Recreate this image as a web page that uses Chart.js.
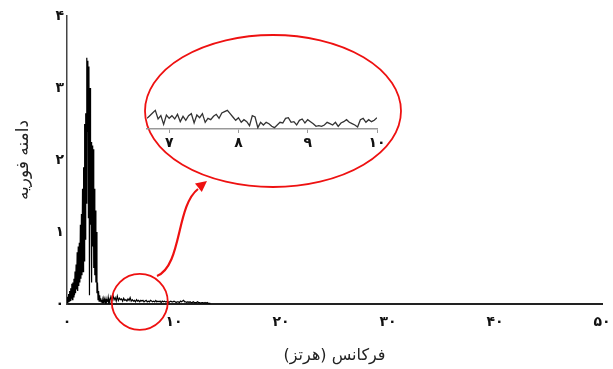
<!DOCTYPE html>
<html lang="fa">
<head>
<meta charset="utf-8">
<script src="https://cdn.jsdelivr.net/npm/chart.js@4.4.1/dist/chart.umd.min.js"></script>
<style>
  body { margin: 0; background: #fff; }
  #wrap { position: relative; width: 613px; height: 369px; }
  #spectrum { position: absolute; left: 0; top: 0; }
  #zoomChart { position: absolute; left: 140px; top: 40px; }
</style>
</head>
<body>
<div id="wrap">
  <canvas id="spectrum" width="613" height="369"></canvas>
  <canvas id="zoomChart" width="250" height="120"></canvas>
</div>
<script>
// ticks
const xTickValues = [0, 10, 20, 30, 40, 50];
const xTickLabels = ['۰', '۱۰', '۲۰', '۳۰', '۴۰', '۵۰'];
const yTickValues = [0, 1, 2, 3, 4];
const yTickLabels = ['۰', '۱', '۲', '۳', '۴'];
const zoomTickValues = [7, 8, 9, 10];
const zoomTickLabels = ['۷', '۸', '۹', '۱۰'];

// فرکانس (Hz) - شبکه نمونه ها
const lowStart = 0, lowStep = 0.05;      // 0 .. 4 Hz
const tailStart = 4.1, tailStep = 0.1;   // 4.1 .. 13.4 Hz
const zoomStart = 6.68, zoomStep = 0.04; // 6.68 .. 10 Hz

// دامنه فوریه
const lowAmp = [
  0.02, 0.10, 0.03, 0.14, 0.04, 0.18, 0.05, 0.22, 0.08, 0.28,
  0.06, 0.30, 0.10, 0.35, 0.12, 0.45, 0.15, 0.55, 0.20, 0.72,
  0.18, 0.80, 0.25, 0.85, 0.30, 1.10, 0.35, 1.25, 0.40, 1.60,
  0.45, 1.90, 0.60, 2.50, 0.90, 2.65, 1.40, 3.42, 2.40, 3.38,
  1.20, 3.30, 0.12, 3.00, 1.10, 2.25, 0.30, 2.20, 0.80, 2.15,
  0.50, 1.60, 0.40, 1.30, 0.30, 1.00, 0.15, 0.30, 0.06, 0.18,
  0.04, 0.12, 0.04, 0.08, 0.03, 0.06, 0.02, 0.05, 0.02, 0.06,
  0.03, 0.05, 0.02, 0.07, 0.03, 0.05, 0.04, 0.09, 0.03, 0.06,
  0.04
];
const tailAmp = [
  0.10, 0.05, 0.12, 0.06, 0.09, 0.04, 0.11, 0.05, 0.08, 0.06,
  0.07, 0.04, 0.08, 0.05, 0.06, 0.04, 0.07, 0.05, 0.09, 0.04,
  0.06, 0.04, 0.05, 0.03, 0.06, 0.04, 0.05, 0.03, 0.05, 0.04,
  0.05, 0.03, 0.04, 0.05, 0.03, 0.04, 0.03, 0.05, 0.04, 0.03,
  0.04, 0.03, 0.05, 0.03, 0.04, 0.03, 0.04, 0.02, 0.04, 0.03,
  0.04, 0.03, 0.03, 0.04, 0.02, 0.03, 0.04, 0.03, 0.03, 0.04,
  0.03, 0.02, 0.03, 0.03, 0.02, 0.04, 0.03, 0.04, 0.05, 0.03,
  0.03, 0.02, 0.03, 0.02, 0.03, 0.02, 0.02, 0.03, 0.02, 0.02,
  0.02, 0.03, 0.02, 0.02, 0.01, 0.02, 0.02, 0.01, 0.02, 0.01,
  0.02, 0.01, 0.01, 0.01
];
// بزرگنمایی ۷ تا ۱۰ هرتز
const zoomAmp = [
  0.036, 0.040, 0.044, 0.048, 0.035, 0.040, 0.027, 0.041, 0.036, 0.040,
  0.035, 0.042, 0.031, 0.039, 0.033, 0.040, 0.043, 0.029, 0.041, 0.037,
  0.043, 0.030, 0.036, 0.034, 0.039, 0.042, 0.036, 0.044, 0.046, 0.048,
  0.043, 0.038, 0.033, 0.037, 0.030, 0.034, 0.031, 0.025, 0.040, 0.038,
  0.022, 0.030, 0.026, 0.030, 0.028, 0.024, 0.022, 0.026, 0.030, 0.029,
  0.036, 0.037, 0.030, 0.031, 0.026, 0.033, 0.035, 0.029, 0.034, 0.031,
  0.028, 0.024, 0.025, 0.024, 0.026, 0.030, 0.028, 0.026, 0.030, 0.024,
  0.029, 0.031, 0.034, 0.030, 0.028, 0.026, 0.023, 0.034, 0.036, 0.030,
  0.034, 0.031, 0.033, 0.037
];
const focusPoint = { x: 6.8, y: 0.03 }; // ناحیه بزرگنمایی شده

const faFont = "'DejaVu Sans', sans-serif";

function toPoints(amps, start, step) {
  return amps.map((a, i) => ({ x: +(start + i * step).toFixed(3), y: a }));
}
function labelFor(values, labels) {
  return v => {
    const i = values.indexOf(Math.round(v * 1000) / 1000);
    return i >= 0 ? labels[i] : '';
  };
}

const spectrumPoints = toPoints(lowAmp, lowStart, lowStep).concat(toPoints(tailAmp, tailStart, tailStep));
const zoomPoints = toPoints(zoomAmp, zoomStart, zoomStep);

// دایره، بیضی و فلش قرمز
const annotations = {
  id: 'annotations',
  afterDraw(chart) {
    const { ctx, scales: { x, y } } = chart;
    ctx.save();
    ctx.strokeStyle = '#ee1111';
    ctx.fillStyle = '#ee1111';
    ctx.lineWidth = 1.8;
    ctx.beginPath();
    ctx.arc(x.getPixelForValue(focusPoint.x), y.getPixelForValue(focusPoint.y), 28, 0, Math.PI * 2);
    ctx.stroke();
    ctx.beginPath();
    ctx.ellipse(273, 111, 128, 76, 0, 0, Math.PI * 2);
    ctx.stroke();
    ctx.lineWidth = 2.2;
    ctx.beginPath();
    ctx.moveTo(157, 276);
    ctx.bezierCurveTo(182, 266, 176, 206, 198, 189);
    ctx.stroke();
    ctx.beginPath();
    ctx.moveTo(207, 181);
    ctx.lineTo(195, 183.5);
    ctx.lineTo(201.8, 192.1);
    ctx.closePath();
    ctx.fill();
    ctx.restore();
  }
};

new Chart(document.getElementById('spectrum'), {
  type: 'line',
  data: {
    datasets: [{
      data: spectrumPoints,
      borderColor: '#000',
      borderWidth: 1.2,
      pointRadius: 0,
      tension: 0,
      fill: false
    }]
  },
  options: {
    responsive: false,
    animation: false,
    devicePixelRatio: 1,
    layout: { padding: { top: 16, right: 11, left: 0, bottom: 0 } },
    plugins: { legend: { display: false }, tooltip: { enabled: false } },
    scales: {
      x: {
        type: 'linear',
        min: 0,
        max: 50,
        afterFit: s => { s.height = 65; s.paddingRight = 0; s.paddingLeft = 0; },
        grid: { display: false, drawTicks: false },
        border: { display: true, color: '#222', width: 2 },
        ticks: {
          stepSize: 10,
          padding: 10,
          maxRotation: 0,
          color: '#111',
          font: { family: faFont, size: 14, weight: 'bold' },
          callback: labelFor(xTickValues, xTickLabels)
        },
        title: {
          display: true,
          text: 'فرکانس (هرتز)',
          color: '#222',
          font: { family: faFont, size: 16 },
          padding: { top: 0, bottom: 4 }
        }
      },
      y: {
        min: 0,
        max: 4,
        afterFit: s => { s.width = 67; },
        grid: { display: false, drawTicks: false },
        border: { display: true, color: '#444', width: 1.5 },
        ticks: {
          stepSize: 1,
          padding: 3,
          color: '#111',
          font: { family: faFont, size: 14, weight: 'bold' },
          callback: labelFor(yTickValues, yTickLabels)
        },
        title: {
          display: true,
          text: 'دامنه فوریه',
          color: '#222',
          font: { family: faFont, size: 17 },
          padding: { top: 13, bottom: 0 }
        }
      }
    }
  },
  plugins: [annotations]
});

// نمودار بزرگنمایی
new Chart(document.getElementById('zoomChart'), {
  type: 'line',
  data: {
    datasets: [{
      data: zoomPoints,
      borderColor: '#333',
      borderWidth: 1.3,
      pointRadius: 0,
      tension: 0,
      fill: false
    }]
  },
  options: {
    responsive: false,
    animation: false,
    devicePixelRatio: 1,
    layout: { padding: { top: 49, right: 13, left: 7, bottom: 0 } },
    plugins: { legend: { display: false }, tooltip: { enabled: false } },
    scales: {
      x: {
        type: 'linear',
        min: zoomStart,
        max: 10,
        afterFit: s => { s.height = 31; },
        grid: { drawOnChartArea: false, drawTicks: true, tickLength: 4, color: '#999', lineWidth: 1 },
        border: { display: true, color: '#999', width: 1.5 },
        ticks: {
          stepSize: 1,
          includeBounds: false,
          padding: 2,
          maxRotation: 0,
          color: '#111',
          font: { family: faFont, size: 14, weight: 'bold' },
          callback: labelFor(zoomTickValues, zoomTickLabels)
        }
      },
      y: {
        display: false,
        min: 0.02,
        max: 0.08
      }
    }
  }
});
</script>
</body>
</html>
